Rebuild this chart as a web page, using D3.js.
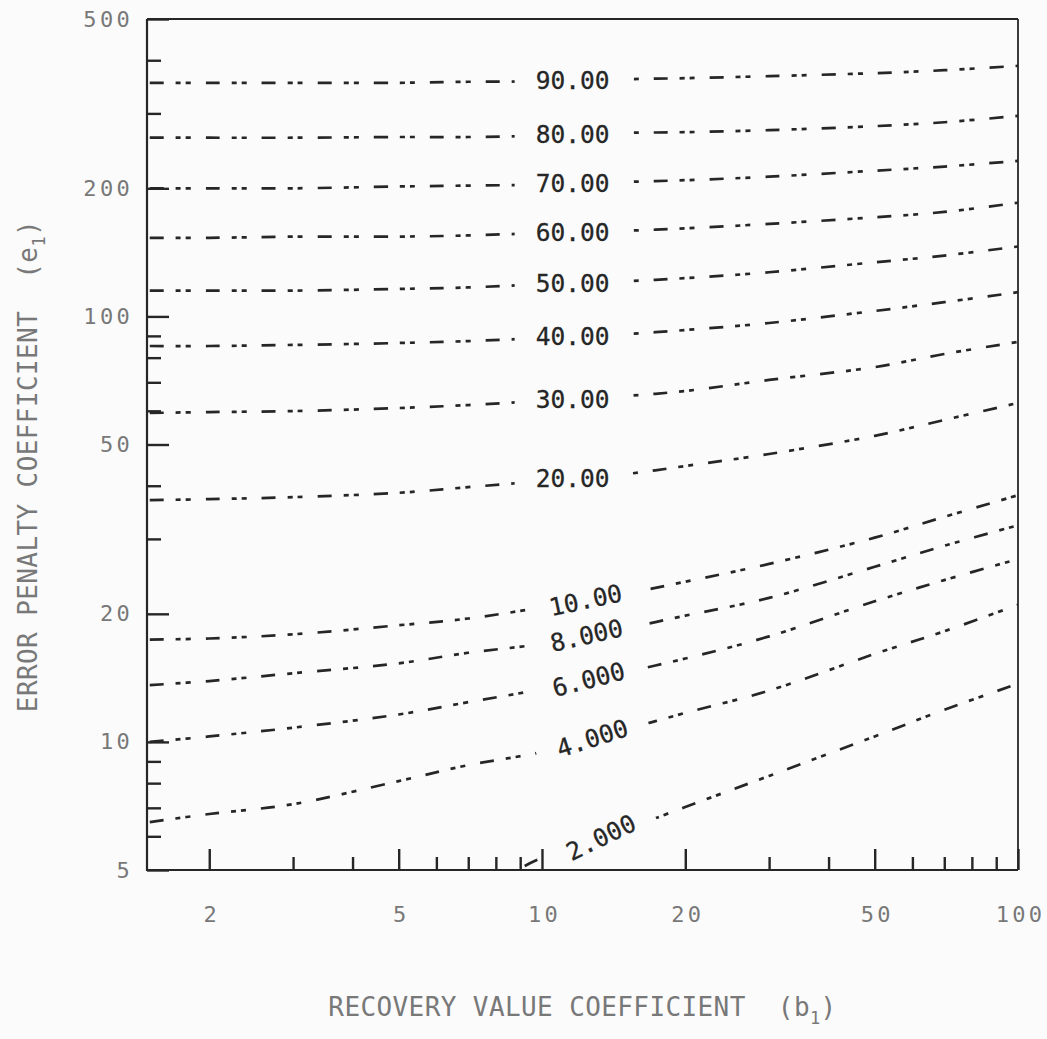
<!DOCTYPE html>
<html>
<head>
<meta charset="utf-8">
<script src="https://cdn.jsdelivr.net/npm/d3@7"></script>
<style>
  html, body { margin: 0; padding: 0; background: #fbfbfb; }
  svg { display: block; }
  text { font-family: "DejaVu Sans Mono", "Liberation Mono", monospace; white-space: pre; }
</style>
</head>
<body>
<svg id="chart" width="1047" height="1039"></svg>
<script>
// Recovery value coefficient b1 at which each contour is sampled
const xGrid = [1.5, 2, 3, 5, 7, 10, 15, 20, 30, 50, 70, 100];

// Error penalty coefficient e1 along each contour level
const e90 = [354, 354, 354, 354, 356, 357, 361, 363, 367, 373, 379, 388];
const e80 = [263, 263, 263, 264, 264, 266, 270, 271, 274, 280, 286, 296];
const e70 = [200, 200, 200, 202, 203, 204, 207, 209, 213, 220, 225, 232];
const e60 = [153, 153, 154, 154, 155, 157, 159, 161, 165, 171, 176, 185];
const e50 = [115, 115, 115, 116, 117, 119, 121, 123, 127, 134, 139, 146];
const e40 = [85.2, 85.2, 85.7, 86.6, 87.5, 89.0, 90.9, 92.9, 96.5, 103, 108, 114];
const e30 = [59.3, 59.6, 59.9, 60.9, 61.9, 63.3, 65.0, 66.8, 70.9, 76.0, 81.6, 87.1];
const e20 = [37.0, 37.2, 37.6, 38.5, 39.7, 41.0, 42.6, 44.5, 47.5, 52.4, 57.1, 62.6];
const e10 = [17.4, 17.5, 17.9, 18.8, 19.5, 20.7, 22.3, 23.8, 26.2, 30.2, 33.8, 38.0];
const e8  = [13.6, 13.9, 14.5, 15.3, 16.2, 17.0, 18.5, 19.8, 21.8, 25.8, 28.9, 32.3];
const e6  = [10.0, 10.3, 10.8, 11.6, 12.4, 13.3, 14.6, 15.7, 17.7, 21.4, 24.0, 26.9];
const e4  = [6.48, 6.77, 7.14, 8.09, 8.82, 9.47, 10.7, 11.7, 13.2, 16.1, 18.2, 21.0];

// The 2.000 contour enters the plot through the bottom edge
const xGrid2 = [9.2, 10, 15, 20, 30, 50, 70, 100];
const e2  = [5.11, 5.34, 6.24, 7.03, 8.32, 10.3, 11.9, 13.7];

const levelLabels = ["90.00", "80.00", "70.00", "60.00", "50.00", "40.00", "30.00",
                     "20.00", "10.00", "8.000", "6.000", "4.000", "2.000"];

// Axis ticks
const xMajorTicks = [2, 5, 10, 20, 50, 100];
const xMinorTicks = [3, 4, 6, 7, 8, 9, 30, 40, 60, 70, 80, 90];
const yMajorTicks = [5, 10, 20, 50, 100, 200, 500];
const yMinorTicks = [6, 7, 8, 9, 30, 40, 60, 70, 80, 90, 300, 400];

const xTitle = "RECOVERY VALUE COEFFICIENT  (b";
const yTitle = "ERROR PENALTY COEFFICIENT  (e";

// ---------------------------------------------------------------------------
const W = 1047, H = 1039;
const plot = { left: 147, right: 1018, top: 19, bottom: 870 };
const ink = "#262626";
const grey = "#787878";

const svg = d3.select("#chart");

const x = d3.scaleLog().domain([1.48, 100]).range([plot.left, plot.right]);
const y = d3.scaleLog().domain([5, 500]).range([plot.bottom, plot.top]);

const series = [
  { xs: xGrid, ys: e90 }, { xs: xGrid, ys: e80 }, { xs: xGrid, ys: e70 },
  { xs: xGrid, ys: e60 }, { xs: xGrid, ys: e50 }, { xs: xGrid, ys: e40 },
  { xs: xGrid, ys: e30 }, { xs: xGrid, ys: e20 }, { xs: xGrid, ys: e10 },
  { xs: xGrid, ys: e8 },  { xs: xGrid, ys: e6 },  { xs: xGrid, ys: e4 },
  { xs: xGrid2, ys: e2 }
].map((s, i) => ({ ...s, label: levelLabels[i] }));

// log-log interpolation of a contour at a given b1 (end segments extended)
function valueAt(xs, ys, xv) {
  const lx = Math.log10(xv);
  const n = xs.length;
  let i = 0;
  while (i < n - 2 && lx > Math.log10(xs[i + 1])) i++;
  const a = Math.log10(xs[i]), b = Math.log10(xs[i + 1]);
  const t = (lx - a) / (b - a);
  return Math.pow(10, Math.log10(ys[i]) * (1 - t) + Math.log10(ys[i + 1]) * t);
}

// Where each contour carries its level label: the label is tilted with the
// contour (plotter-style, a little steeper than the line), nearly flat
// contours keep it level, and steeper contours carry it a little further right.
const labelB = 11.6;
series.forEach(s => {
  const x0 = labelB / 1.3, x1 = labelB * 1.3;
  const dx = x(x1) - x(x0);
  const dy = y(valueAt(s.xs, s.ys, x1)) - y(valueAt(s.xs, s.ys, x0));
  let ang = Math.atan2(1.3 * dy, dx) * 180 / Math.PI;
  if (Math.abs(ang) < 7) ang = 0;
  s.angle = ang;
  const b = x.invert(x(labelB) + 1.1 * Math.abs(ang));
  s.lx = x(b);
  s.ly = y(valueAt(s.xs, s.ys, b));
});

// Mask that opens a gap in each contour for its label
const defs = svg.append("defs");
defs.append("clipPath").attr("id", "plot-area")
  .append("rect")
  .attr("x", plot.left).attr("y", plot.top)
  .attr("width", plot.right - plot.left).attr("height", plot.bottom - plot.top);

const mask = defs.append("mask").attr("id", "label-gaps")
  .attr("maskUnits", "userSpaceOnUse")
  .attr("x", 0).attr("y", 0).attr("width", W).attr("height", H);
mask.append("rect").attr("width", W).attr("height", H).attr("fill", "#fff");
mask.selectAll("rect.gap").data(series).join("rect")
  .attr("class", "gap")
  .attr("x", -58).attr("y", -13).attr("width", 116).attr("height", 26)
  .attr("fill", "#000")
  .attr("transform", d => `translate(${d.lx},${d.ly}) rotate(${d.angle})`);

// Contours
const line = d3.line()
  .x(d => x(d[0]))
  .y(d => y(d[1]))
  .curve(d3.curveCatmullRom.alpha(0.5));

svg.append("g")
  .attr("clip-path", "url(#plot-area)")
  .append("g")
  .attr("mask", "url(#label-gaps)")
  .selectAll("path").data(series).join("path")
  .attr("d", d => line(d.xs.map((v, i) => [v, d.ys[i]])))
  .attr("fill", "none")
  .attr("stroke", ink)
  .attr("stroke-width", 2.7)
  .attr("stroke-dasharray", "14,12,5,5,5,15");

// Level labels
svg.append("g").selectAll("text").data(series).join("text")
  .attr("transform", d => `translate(${d.lx},${d.ly}) rotate(${d.angle})`)
  .attr("text-anchor", "middle")
  .attr("dominant-baseline", "central")
  .attr("font-size", 24.5)
  .attr("fill", "#262626")
  .attr("stroke", "#262626")
  .attr("stroke-width", 0.3)
  .text(d => d.label);

// Axes (ticks point into the plot)
function styleAxis(g) {
  g.select(".domain").remove();
  g.attr("font-family", null).attr("font-size", null);
  g.selectAll(".tick line").attr("stroke", ink).attr("stroke-width", 2.4);
  g.selectAll(".tick text")
    .attr("font-size", 22)
    .attr("letter-spacing", 3.3)
    .attr("fill", grey);
}

svg.append("g")
  .attr("transform", `translate(0,${plot.bottom})`)
  .call(d3.axisBottom(x).tickValues(xMinorTicks).tickSize(-13).tickFormat(() => ""))
  .call(styleAxis);

svg.append("g")
  .attr("transform", `translate(0,${plot.bottom})`)
  .call(d3.axisBottom(x).tickValues(xMajorTicks).tickSize(-21).tickPadding(36).tickFormat(d3.format("d")))
  .call(styleAxis)
  .call(g => g.selectAll(".tick text").attr("dx", 2));

svg.append("g")
  .attr("transform", `translate(${plot.left},0)`)
  .call(d3.axisLeft(y).tickValues(yMinorTicks).tickSize(-14).tickFormat(() => ""))
  .call(styleAxis);

svg.append("g")
  .attr("transform", `translate(${plot.left},0)`)
  .call(d3.axisLeft(y).tickValues(yMajorTicks).tickSize(-22).tickPadding(14).tickFormat(d3.format("d")))
  .call(styleAxis);

// Plot frame
const frame = svg.append("g").attr("fill", "none").attr("stroke", ink);
frame.append("line").attr("x1", plot.left).attr("x2", plot.right)
  .attr("y1", plot.top).attr("y2", plot.top).attr("stroke-width", 2);
frame.append("line").attr("x1", plot.right).attr("x2", plot.right)
  .attr("y1", plot.top).attr("y2", plot.bottom).attr("stroke-width", 1.8);
frame.append("line").attr("x1", plot.left).attr("x2", plot.left)
  .attr("y1", plot.top).attr("y2", plot.bottom + 1).attr("stroke-width", 2.2);
frame.append("line").attr("x1", plot.left - 1).attr("x2", plot.right)
  .attr("y1", plot.bottom).attr("y2", plot.bottom).attr("stroke-width", 2.2);

// Axis titles
const xt = svg.append("text")
  .attr("x", (plot.left + plot.right) / 2).attr("y", 1016)
  .attr("text-anchor", "middle")
  .attr("font-size", 26).attr("letter-spacing", 0.4)
  .attr("fill", grey)
  .text(xTitle);
xt.append("tspan").attr("dy", 8).attr("font-size", 17).text("1");
xt.append("tspan").attr("dy", -8).text(")");

const yt = svg.append("text")
  .attr("transform", "translate(37,466) rotate(-90)")
  .attr("text-anchor", "middle")
  .attr("font-size", 26).attr("letter-spacing", 0.4)
  .attr("fill", grey)
  .text(yTitle);
yt.append("tspan").attr("dy", 8).attr("font-size", 17).text("1");
yt.append("tspan").attr("dy", -8).text(")");
</script>
</body>
</html>
